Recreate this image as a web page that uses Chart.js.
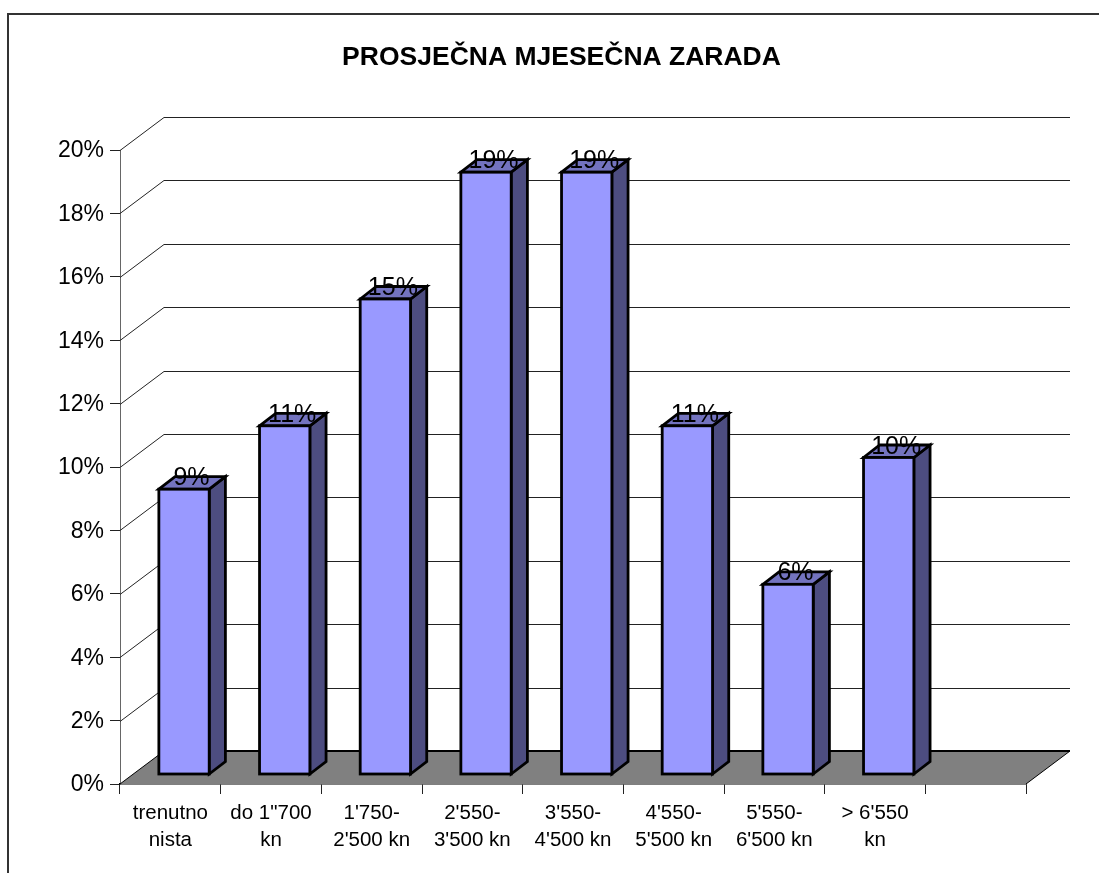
<!DOCTYPE html>
<html><head><meta charset="utf-8">
<style>html,body{margin:0;padding:0;background:#fff}canvas{display:block}</style>
<script src="https://cdn.jsdelivr.net/npm/chart.js@4/dist/chart.umd.min.js"></script>
</head><body>
<div style="width:1099px;height:873px"><canvas id="c" width="1099" height="873"></canvas></div>
<script>
const categories = [["trenutno","nista"],["do 1\"700","kn"],["1'750-","2'500 kn"],["2'550-","3'500 kn"],["3'550-","4'500 kn"],["4'550-","5'500 kn"],["5'550-","6'500 kn"],["> 6'550","kn"],""];
const shares = [9,11,15,19,19,11,6,10,null];
const yMax = 20, yStep = 2;
const chartTitle = 'PROSJEČNA MJESEČNA ZARADA';

const FONT = '"Liberation Sans", Arial, sans-serif';
const DEPTH = {x:44, y:-33};      // floor / wall depth
const BAR_OFF = {x:13.7, y:-9.5}; // bars sit part-way into the floor
const BAR_DEPTH = {x:16.2, y:-12.5};
const FRAME = {x:8, y:14};
const EDGE = 2.8;

function poly(ctx, pts, fill, stroke, lw){
  ctx.beginPath();
  pts.forEach((p,i)=> i?ctx.lineTo(p[0],p[1]):ctx.moveTo(p[0],p[1]));
  ctx.closePath();
  if(fill){ctx.fillStyle=fill;ctx.fill();}
  if(stroke){ctx.strokeStyle=stroke;ctx.lineWidth=lw;ctx.lineJoin='miter';ctx.stroke();}
}

const scene = {
  id:'scene',
  beforeDraw(chart){
    const {ctx,width,height}=chart;
    ctx.save();
    ctx.strokeStyle='#333';ctx.lineWidth=2;
    ctx.beginPath();ctx.moveTo(FRAME.x,height);ctx.lineTo(FRAME.x,FRAME.y);ctx.lineTo(width,FRAME.y);ctx.stroke();
    ctx.fillStyle='#000';ctx.font='bold 26.5px '+FONT;ctx.textAlign='center';ctx.textBaseline='alphabetic';
    ctx.fillText(chartTitle,561.5,65);
    ctx.restore();
  },
  beforeDatasetsDraw(chart){
    const {ctx,chartArea:a,scales:{y}}=chart;
    ctx.save();
    y.ticks.forEach(t=>{
      if(t.value===0) return;
      const py=Math.round(y.getPixelForValue(t.value))+0.5;
      ctx.strokeStyle='#222';ctx.lineWidth=1;
      ctx.beginPath();ctx.moveTo(a.left,py);ctx.lineTo(a.left+DEPTH.x,py+DEPTH.y);ctx.lineTo(a.right+DEPTH.x,py+DEPTH.y);ctx.stroke();
    });
    const y0=y.getPixelForValue(0);
    poly(ctx,[[a.left,y0],[a.right,y0],[a.right+DEPTH.x,y0+DEPTH.y],[a.left+DEPTH.x,y0+DEPTH.y]],'#808080');
    ctx.strokeStyle='#000';ctx.lineWidth=2;
    ctx.beginPath();ctx.moveTo(a.left+DEPTH.x,y0+DEPTH.y);ctx.lineTo(a.right+DEPTH.x,y0+DEPTH.y);ctx.stroke();
    ctx.lineWidth=1;
    ctx.beginPath();ctx.moveTo(a.left,y0);ctx.lineTo(a.left+DEPTH.x,y0+DEPTH.y);ctx.moveTo(a.right,y0);ctx.lineTo(a.right+DEPTH.x,y0+DEPTH.y);ctx.stroke();
    chart.getDatasetMeta(0).data.forEach((b,i)=>{
      if(shares[i]==null) return;
      const l=b.x-b.width/2+BAR_OFF.x, r=b.x+b.width/2+BAR_OFF.x, t=b.y+BAR_OFF.y, bt=b.base+BAR_OFF.y;
      const dx=BAR_DEPTH.x, dy=BAR_DEPTH.y;
      poly(ctx,[[r,t],[r+dx,t+dy],[r+dx,bt+dy],[r,bt]],'#4D4D80','#000',EDGE);
      poly(ctx,[[l,t],[l+dx,t+dy],[r+dx,t+dy],[r,t]],'#7373BF','#000',EDGE);
    });
    ctx.restore();
    ctx.save();
    ctx.translate(BAR_OFF.x,BAR_OFF.y);
  },
  afterDatasetsDraw(chart){
    const {ctx}=chart;
    ctx.restore();
    ctx.save();
    chart.getDatasetMeta(0).data.forEach((b,i)=>{
      if(shares[i]==null) return;
      const l=b.x-b.width/2+BAR_OFF.x, t=b.y+BAR_OFF.y;
      ctx.strokeStyle='#000';ctx.lineWidth=EDGE;ctx.lineJoin='miter';
      ctx.strokeRect(l,t,b.width,b.base-b.y);
    });
    ctx.fillStyle='#000';ctx.font='25px '+FONT;ctx.textAlign='center';ctx.textBaseline='alphabetic';
    chart.getDatasetMeta(0).data.forEach((b,i)=>{
      if(shares[i]==null) return;
      ctx.fillText(shares[i]+'%',b.x+BAR_OFF.x+7.5,b.y+BAR_OFF.y-4);
    });
    ctx.restore();
  }
};

new Chart(document.getElementById('c'),{
  type:'bar',
  data:{labels:categories,datasets:[{data:shares,backgroundColor:'#9999FF',borderWidth:0,clip:false,
    categoryPercentage:1,barPercentage:0.5}]},
  plugins:[scene],
  options:{
    responsive:false,animation:false,
    layout:{padding:{left:24,right:73,top:150,bottom:0}},
    plugins:{legend:{display:false},tooltip:{enabled:false},title:{display:false}},
    scales:{
      x:{
        afterFit(s){s.height=89;},
        grid:{display:true,drawOnChartArea:false,drawTicks:true,tickLength:10,offset:true,color:'#222'},
        border:{display:true,color:'#000',width:1.5},
        ticks:{color:'#000',font:{family:FONT,size:20.5,lineHeight:1.3},maxRotation:0,minRotation:0,autoSkip:false,padding:6}
      },
      y:{
        min:0,max:yMax,
        afterFit(s){s.width=96;},
        grid:{display:true,drawOnChartArea:false,drawTicks:true,tickLength:10,color:'#222'},
        border:{display:true,color:'#666',width:1},
        ticks:{color:'#000',font:{family:FONT,size:23},stepSize:yStep,padding:6,labelOffset:1,callback:v=>v+'%'}
      }
    }
  }
});
</script>
</body></html>
